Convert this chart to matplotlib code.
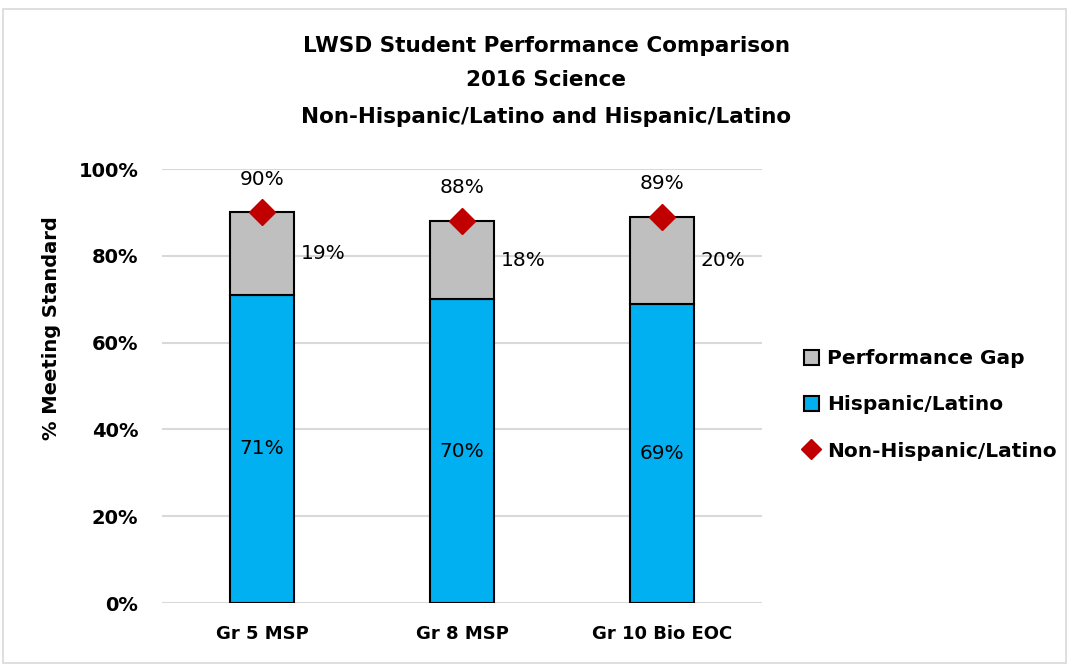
import matplotlib.pyplot as plt
from matplotlib.patches import Rectangle
from matplotlib.lines import Line2D

plt.rcParams['font.family'] = ['DejaVu Sans']

categories = ['Gr 5 MSP', 'Gr 8 MSP', 'Gr 10 Bio EOC']
hispanic = [0.71, 0.70, 0.69]
non_hispanic = [0.90, 0.88, 0.89]
gap = [0.19, 0.18, 0.20]
title_lines = ['LWSD Student Performance Comparison', '2016 Science',
               'Non-Hispanic/Latino and Hispanic/Latino']

fig = plt.figure(figsize=(10.69, 6.65), dpi=100)
ax = fig.add_axes([0.1515, 0.0932, 0.5613, 0.6526])

x = list(range(len(categories)))
w = 0.32
ax.bar(x, hispanic, width=w, color='#00B0F0', edgecolor='black', linewidth=1.5,
       label='Hispanic/Latino', zorder=3)
ax.bar(x, gap, width=w, bottom=hispanic, color='#BFBFBF', edgecolor='black',
       linewidth=1.5, label='Performance Gap', zorder=3)
ax.plot(x, non_hispanic, linestyle='none', marker='D', markersize=13,
        color='#C00000', label='Non-Hispanic/Latino', zorder=4)

# data labels
for i in x:
    ax.text(i, hispanic[i] / 2, '%d%%' % round(hispanic[i] * 100), ha='center',
            va='center', fontsize=14.5, zorder=5)
    ax.text(i + 0.305, hispanic[i] + gap[i] / 2, '%d%%' % round(gap[i] * 100),
            ha='center', va='center', fontsize=14.5, zorder=5)
    ax.annotate('%d%%' % round(non_hispanic[i] * 100), (i, non_hispanic[i]),
                xytext=(0, 24), textcoords='offset points', ha='center',
                va='center', fontsize=14.5, zorder=5)

ax.set_xlim(-0.5, 2.5)
ax.set_ylim(0, 1.0)
ax.set_yticks([0, 0.2, 0.4, 0.6, 0.8, 1.0])
ax.set_yticklabels(['0%', '20%', '40%', '60%', '80%', '100%'],
                   fontsize=14, fontweight='bold')
ax.set_xticks(x)
ax.set_xticklabels(categories, fontsize=13, fontweight='bold')
ax.tick_params(length=0)
ax.tick_params(axis='x', pad=16)
ax.tick_params(axis='y', pad=17)
ax.grid(axis='y', color='#D9D9D9', linewidth=1.5, zorder=0)
ax.set_axisbelow(True)
for s in ax.spines.values():
    s.set_visible(False)
ax.set_ylabel('% Meeting Standard', fontsize=14, fontweight='bold')
ax.yaxis.set_label_coords(-0.168, 0.634)

for k, y in enumerate([0.931, 0.880, 0.824]):
    fig.text(0.511, y, title_lines[k], ha='center', va='center', fontsize=15.5,
             fontweight='bold')

handles = [Rectangle((0, 0), 1, 1, facecolor='#BFBFBF', edgecolor='black', linewidth=1.5),
           Rectangle((0, 0), 1, 1, facecolor='#00B0F0', edgecolor='black', linewidth=1.5),
           Line2D([], [], linestyle='none', marker='D', markersize=10, color='#C00000')]
leg = fig.legend(handles, ['Performance Gap', 'Hispanic/Latino', 'Non-Hispanic/Latino'],
                 loc='center left', bbox_to_anchor=(0.735, 0.391), frameon=False,
                 prop={'size': 14.5, 'weight': 'bold'}, handlelength=0.75,
                 handleheight=0.75, handletextpad=0.4, labelspacing=1.35)

# light outer border like the chart area
fig.patches.append(Rectangle((0.003, 0.003), 0.994, 0.984, transform=fig.transFigure,
                             fill=False, edgecolor='#D9D9D9', linewidth=1.2))

fig.savefig('out.png', dpi=100)
